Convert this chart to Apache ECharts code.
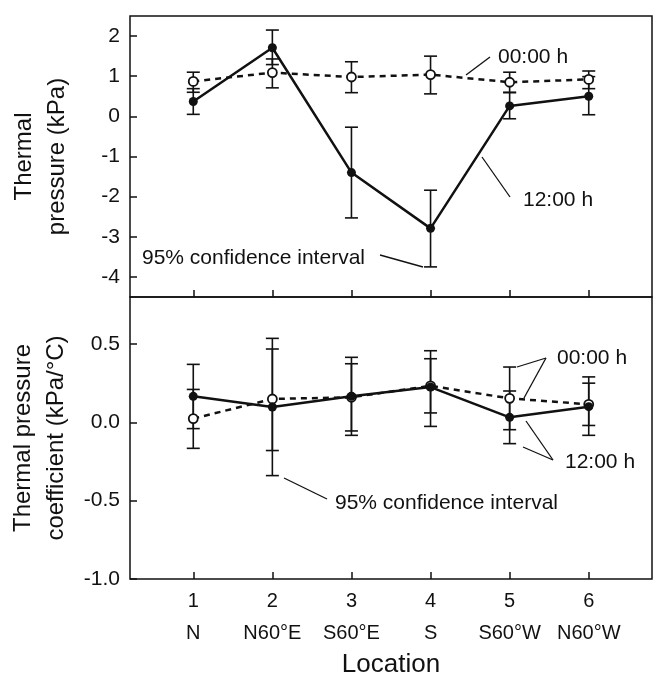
<!DOCTYPE html>
<html>
<head>
<meta charset="utf-8">
<script src="https://cdn.jsdelivr.net/npm/echarts@6/dist/echarts.min.js"></script>
<style>
    html, body { margin: 0; padding: 0; background: #ffffff; }
    #chart { width: 655px; height: 676px; }
</style>
</head>
<body>
<div id="chart"></div>
<script>
// locations along the x axis
const xPositions = [1, 2, 3, 4, 5, 6]
const locations = ['N', 'N60°E', 'S60°E', 'S', 'S60°W', 'N60°W']

// top panel: thermal pressure (kPa)
const pressTicks = [-4, -3, -2, -1, 0, 1, 2]
const pressNoon = [0.37, 1.71, -1.40, -2.79, 0.26, 0.50]
const pressNoonLow = [0.05, 1.29, -2.53, -3.75, -0.06, 0.04]
const pressNoonHigh = [0.69, 2.15, -0.27, -1.84, 0.59, 0.99]
const pressMidnight = [0.87, 1.09, 0.98, 1.04, 0.85, 0.92]
const pressMidnightLow = [0.60, 0.71, 0.59, 0.56, 0.60, 0.69]
const pressMidnightHigh = [1.10, 1.43, 1.36, 1.50, 1.10, 1.13]

// bottom panel: thermal pressure coefficient (kPa/°C)
const coefTicks = [-1.0, -0.5, 0.0, 0.5]
const coefNoon = [0.166, 0.098, 0.166, 0.225, 0.032, 0.10]
const coefNoonLow = [-0.04, -0.34, -0.083, -0.026, -0.136, -0.083]
const coefNoonHigh = [0.37, 0.536, 0.415, 0.457, 0.20, 0.29]
const coefMidnight = [0.024, 0.149, 0.16, 0.233, 0.153, 0.115]
const coefMidnightLow = [-0.166, -0.18, -0.055, 0.06, -0.047, -0.02]
const coefMidnightHigh = [0.21, 0.468, 0.374, 0.406, 0.353, 0.25]

const ink = '#111111'
const font = '"Liberation Sans", Arial, sans-serif'

function toPoints(vals) {
    return xPositions.map((x, i) => [x, vals[i]])
}

function toBars(low, high) {
    return xPositions.map((x, i) => [x, low[i], high[i]])
}

function renderErrorBar(params, api) {
    let x = api.value(0)
    let lo = api.coord([x, api.value(1)])
    let hi = api.coord([x, api.value(2)])
    let w = 6.5
    let style = { stroke: ink, lineWidth: 1.6 }
    return {
        type: 'group',
        children: [
            { type: 'line', shape: { x1: lo[0], y1: lo[1], x2: hi[0], y2: hi[1] }, style: style },
            { type: 'line', shape: { x1: lo[0] - w, y1: lo[1], x2: lo[0] + w, y2: lo[1] }, style: style },
            { type: 'line', shape: { x1: hi[0] - w, y1: hi[1], x2: hi[0] + w, y2: hi[1] }, style: style }
        ]
    }
}

function errorSeries(idx, low, high) {
    return {
        type: 'custom',
        xAxisIndex: idx,
        yAxisIndex: idx,
        renderItem: renderErrorBar,
        encode: { x: 0, y: [1, 2] },
        data: toBars(low, high),
        z: 2,
        silent: true
    }
}

function noonSeries(idx, vals) {
    return {
        type: 'line',
        xAxisIndex: idx,
        yAxisIndex: idx,
        data: toPoints(vals),
        symbol: 'circle',
        symbolSize: 9,
        lineStyle: { color: ink, width: 2.5 },
        itemStyle: { color: ink },
        z: 4
    }
}

function midnightSeries(idx, vals) {
    return {
        type: 'line',
        xAxisIndex: idx,
        yAxisIndex: idx,
        data: toPoints(vals),
        symbol: 'circle',
        symbolSize: 9,
        lineStyle: { color: ink, width: 2.5, type: [6, 5] },
        itemStyle: { color: '#ffffff', borderColor: ink, borderWidth: 1.8 },
        z: 3
    }
}

function xAxisFor(idx, withLabels) {
    return {
        type: 'value',
        gridIndex: idx,
        position: 'bottom',
        min: 0.2,
        max: 6.8,
        axisLine: { show: false, onZero: false },
        splitLine: { show: false },
        axisTick: { inside: true, length: 7, customValues: xPositions, lineStyle: { color: ink, width: 1.5 } },
        axisLabel: {
            show: withLabels,
            customValues: xPositions,
            formatter: v => v + '\n' + locations[v - 1],
            color: ink,
            fontFamily: font,
            fontSize: 20,
            lineHeight: 32,
            margin: 6
        },
        name: withLabels ? 'Location' : '',
        nameLocation: 'middle',
        nameGap: 73,
        nameTextStyle: { color: ink, fontFamily: font, fontSize: 26 }
    }
}

function yAxisFor(idx, min, max, ticks, title, fmt) {
    return {
        type: 'value',
        gridIndex: idx,
        min: min,
        max: max,
        axisLine: { show: false, onZero: false },
        splitLine: { show: false },
        axisTick: { inside: true, length: 7, customValues: ticks, lineStyle: { color: ink, width: 1.5 } },
        axisLabel: {
            customValues: ticks,
            formatter: fmt,
            color: ink,
            fontFamily: font,
            fontSize: 21,
            margin: 10
        },
        name: title,
        nameLocation: 'middle',
        nameRotate: 90,
        nameGap: 56,
        nameTextStyle: { color: ink, fontFamily: font, fontSize: 24, lineHeight: 33 }
    }
}

function label(text, x, y) {
    return {
        type: 'text',
        style: { text: text, x: x, y: y, fill: ink, fontFamily: font, fontSize: 21, verticalAlign: 'middle' },
        z: 10
    }
}

function leader(x1, y1, x2, y2) {
    return {
        type: 'line',
        shape: { x1: x1, y1: y1, x2: x2, y2: y2 },
        style: { stroke: ink, lineWidth: 1.3 },
        z: 10
    }
}

let chart = echarts.init(document.getElementById('chart'))
chart.setOption({
    animation: false,
    backgroundColor: '#ffffff',
    grid: [
        { left: 130, right: 3, top: 16, height: 281, show: true, borderColor: ink, borderWidth: 1.5, outerBoundsMode: 'none' },
        { left: 130, right: 3, top: 297, height: 282, show: true, borderColor: ink, borderWidth: 1.5, outerBoundsMode: 'none' }
    ],
    xAxis: [xAxisFor(0, false), xAxisFor(1, true)],
    yAxis: [
        yAxisFor(0, -4.5, 2.5, pressTicks, 'Thermal\npressure (kPa)', v => String(v)),
        yAxisFor(1, -1.0, 0.8, coefTicks, 'Thermal pressure\ncoefficient (kPa/°C)', v => v.toFixed(1))
    ],
    series: [
        errorSeries(0, pressNoonLow, pressNoonHigh),
        errorSeries(0, pressMidnightLow, pressMidnightHigh),
        midnightSeries(0, pressMidnight),
        noonSeries(0, pressNoon),
        errorSeries(1, coefNoonLow, coefNoonHigh),
        errorSeries(1, coefMidnightLow, coefMidnightHigh),
        midnightSeries(1, coefMidnight),
        noonSeries(1, coefNoon)
    ],
    graphic: [
        label('00:00 h', 498, 57),
        leader(490, 57, 466, 75),
        label('12:00 h', 523, 200),
        leader(510, 197, 482, 157),
        label('95% confidence interval', 142, 258),
        leader(380, 255, 423, 267),
        label('95% confidence interval', 335, 503),
        leader(284, 478, 327, 499),
        label('00:00 h', 557, 358),
        leader(546, 358, 517, 367),
        leader(546, 358, 524, 398),
        label('12:00 h', 565, 462),
        leader(553, 460, 526, 421),
        leader(553, 460, 523, 447)
    ]
})
</script>
</body>
</html>
